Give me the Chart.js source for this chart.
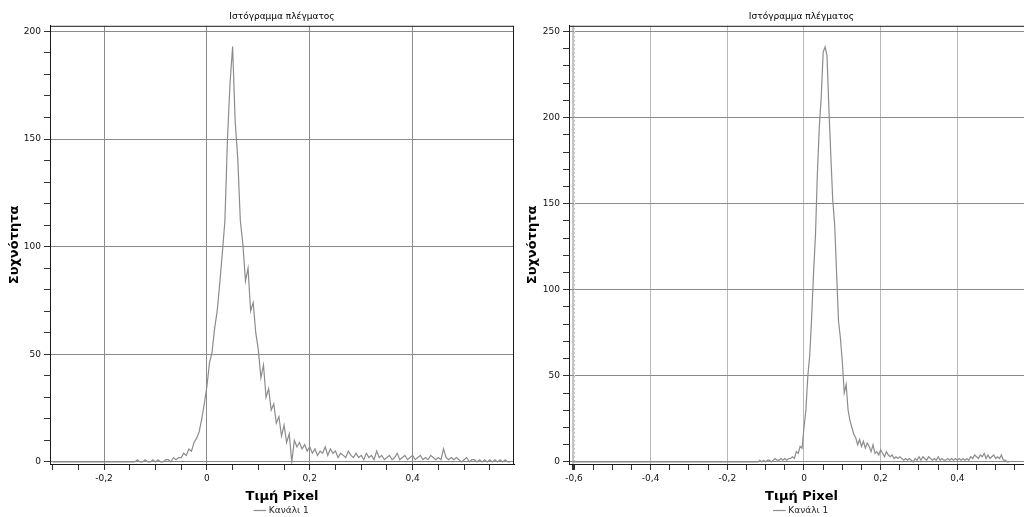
<!DOCTYPE html>
<html>
<head>
<meta charset="utf-8">
<script src="https://cdn.jsdelivr.net/npm/chart.js@4.4.1/dist/chart.umd.min.js"></script>
<style>
  html, body { margin: 0; padding: 0; background: #fff; overflow: hidden; width: 1024px; height: 517px; }
  #left { position: absolute; left: 0; top: 0; width: 564px; height: 517px; }
  #right { position: absolute; left: 518px; top: 0; width: 567px; height: 517px; background: #fff; z-index: 1; }
</style>
</head>
<body>
<div id="left"><canvas id="c1"></canvas></div>
<div id="right"><canvas id="c2"></canvas></div>
<script>
const chartTitle = "Ιστόγραμμα πλέγματος";
const xTitle = "Τιμή Pixel";
const yTitle = "Συχνότητα";
const seriesName = "Κανάλι 1";

// histogram bins, 0.005 wide
const binWidth = 0.005;

const leftStart = -0.30;
const leftCounts = [
  0, 0, 0, 0, 0, 0, 0, 0, 0, 0,
  0, 0, 0, 0, 0, 0, 0, 0, 0, 0,
  0, 0, 0, 0, 0, 0, 0, 0, 0, 0,
  0, 0, 0, 1, 0, 0, 1, 0, 0, 1,
  0, 1, 0, 0, 1, 1, 0, 2, 1, 2,
  2, 4, 3, 6, 5, 9, 11, 14, 20, 27,
  35, 46, 51, 62, 70, 83, 97, 112, 150, 176,
  193, 158, 141, 112, 101, 84, 90, 70, 74, 60,
  52, 39, 45, 30, 34, 24, 27, 18, 21, 12,
  17, 9, 13, 0, 10, 7, 9, 6, 8, 5,
  7, 4, 6, 3, 5, 4, 7, 3, 6, 4,
  5, 2, 4, 3, 2, 5, 3, 2, 4, 2,
  3, 1, 4, 2, 3, 1, 5, 2, 3, 1,
  2, 3, 1, 2, 4, 1, 2, 3, 1, 2,
  3, 1, 2, 3, 1, 2, 1, 3, 2, 1,
  2, 1, 6, 2, 1, 2, 1, 2, 1, 0,
  1, 2, 0, 1, 1, 0, 1, 0, 1, 0,
  1, 0, 1, 0, 1, 0, 1, 0, 0
];

const rightStart = -0.60;
const rightCounts = [
  0, 0, 0, 0, 0, 0, 0, 0, 0, 0,
  0, 0, 0, 0, 0, 0, 0, 0, 0, 0,
  0, 0, 0, 0, 0, 0, 0, 0, 0, 0,
  0, 0, 0, 0, 0, 0, 0, 0, 0, 0,
  0, 0, 0, 0, 0, 0, 0, 0, 0, 0,
  0, 0, 0, 0, 0, 0, 0, 0, 0, 0,
  0, 0, 0, 0, 0, 0, 0, 0, 0, 0,
  0, 0, 0, 0, 0, 0, 0, 0, 0, 0,
  0, 0, 0, 0, 0, 0, 0, 0, 0, 0,
  0, 0, 0, 0, 0, 0, 0, 1, 0, 1,
  0, 1, 1, 0, 1, 2, 1, 1, 2, 1,
  2, 1, 2, 2, 3, 2, 6, 5, 9, 8,
  20, 30, 50, 62, 84, 110, 132, 168, 195, 212,
  238, 241, 236, 205, 178, 152, 138, 110, 82, 72,
  58, 40, 45, 30, 24, 20, 16, 14, 10, 13,
  9, 12, 8, 11, 9, 6, 10, 5, 6, 4,
  7, 5, 3, 6, 4, 3, 4, 2, 3, 2,
  3, 2, 1, 2, 1, 2, 1, 0, 2, 1,
  3, 1, 3, 2, 1, 3, 2, 1, 2, 1,
  3, 1, 2, 1, 1, 2, 1, 2, 1, 2,
  1, 2, 1, 2, 1, 2, 1, 3, 2, 4,
  3, 2, 4, 3, 5, 2, 4, 2, 3, 4,
  2, 3, 2, 4, 1, 1, 0, 0
];

const FONT = "'DejaVu Sans', Verdana, sans-serif";

function near(v, step) {
  const r = v / step;
  return Math.abs(r - Math.round(r)) < 1e-6;
}

function fmtX(v) {
  if (Math.abs(v) < 1e-9) return "0";
  return v.toFixed(1).replace(".", ",");
}

const frame = {
  id: "frame",
  afterDraw(chart) {
    const a = chart.chartArea;
    const ctx = chart.ctx;
    ctx.save();
    ctx.strokeStyle = "#1a1a1a";
    ctx.lineWidth = 1;
    ctx.strokeRect(a.left + 0.5, a.top + 0.5, a.right - a.left - 1, a.bottom - a.top);
    ctx.restore();
  }
};

const marker = {
  id: "marker",
  beforeDatasetsDraw(chart, args, opts) {
    if (opts.value === undefined) return;
    const x = Math.round(chart.scales.x.getPixelForValue(opts.value)) + 0.5;
    const a = chart.chartArea;
    const ctx = chart.ctx;
    ctx.save();
    ctx.strokeStyle = "#ffffff";
    ctx.lineWidth = 1;
    ctx.setLineDash([2, 2]);
    ctx.beginPath();
    ctx.moveTo(x, a.top);
    ctx.lineTo(x, a.bottom);
    ctx.stroke();
    ctx.restore();
  }
};

function makeChart(id, start, counts, cfg) {
  const points = counts.map((c, i) => ({ x: start + i * binWidth, y: c }));
  return new Chart(document.getElementById(id), {
    type: "line",
    data: {
      datasets: [{
        label: seriesName,
        data: points,
        borderColor: "#8c8c8c",
        backgroundColor: "#8c8c8c",
        borderWidth: 1.2,
        pointRadius: 0,
        tension: 0,
        fill: false
      }]
    },
    options: {
      responsive: true,
      maintainAspectRatio: false,
      animation: false,
      parsing: false,
      layout: { padding: { left: 0, right: 0, top: 0, bottom: -8 } },
      plugins: {
        title: {
          display: true,
          text: chartTitle,
          color: "#000",
          font: { family: FONT, size: 9, weight: "normal" },
          padding: { top: 11, bottom: 4 }
        },
        legend: {
          position: "bottom",
          labels: {
            color: "#222",
            font: { family: FONT, size: 9 },
            usePointStyle: true,
            pointStyle: "line",
            boxWidth: 9,
            padding: 2
          }
        },
        tooltip: { enabled: false },
        marker: { value: cfg.marker }
      },
      scales: {
        x: {
          type: "linear",
          min: cfg.xMin,
          max: cfg.xMax,
          afterFit(scale) { scale.height = 40; },
          border: { color: "#000" },
          grid: {
            color: (c) => {
              const v = c.tick ? c.tick.value : 0;
              if (cfg.marker !== undefined && Math.abs(v - cfg.marker) < 1e-6) return "#c4c4c4";
              return near(v, 0.2) ? cfg.xGrid : "rgba(0,0,0,0)";
            },
            lineWidth: (c) => {
              const v = c.tick ? c.tick.value : 0;
              return (cfg.marker !== undefined && Math.abs(v - cfg.marker) < 1e-6) ? 3 : 1;
            },
            tickColor: "#333",
            tickLength: 6
          },
          ticks: {
            stepSize: 0.05,
            includeBounds: false,
            autoSkip: false,
            maxRotation: 0,
            color: "#111",
            font: { family: FONT, size: 9 },
            padding: 3,
            callback: (v) => near(v, 0.2) ? fmtX(v) : ""
          },
          title: {
            display: true,
            text: xTitle,
            color: "#000",
            font: { family: FONT, size: 13, weight: "bold" },
            padding: { top: 0, bottom: 0 }
          }
        },
        y: {
          type: "linear",
          min: cfg.yMin,
          max: cfg.yMax,
          afterFit(scale) { scale.width = cfg.yWidth; },
          border: { color: "#000" },
          grid: {
            color: (c) => (c.tick && near(c.tick.value, 50)) ? "#8a8a8a" : "rgba(0,0,0,0)",
            tickColor: "#333",
            tickLength: 6
          },
          ticks: {
            stepSize: 10,
            includeBounds: false,
            autoSkip: false,
            color: "#111",
            font: { family: FONT, size: 9 },
            padding: 3,
            callback: (v) => near(v, 50) ? String(Math.round(v)) : ""
          },
          title: {
            display: true,
            text: yTitle,
            color: "#000",
            font: { family: FONT, size: 13, weight: "bold" },
            padding: { top: 7, bottom: 0 }
          }
        },
        // empty right-hand axis so that the plot sits centred under title and legend
        yPad: {
          type: "linear",
          position: "right",
          display: true,
          afterFit(scale) { scale.width = cfg.yWidth; },
          grid: { display: false, drawTicks: false },
          border: { display: false },
          ticks: { display: false }
        }
      }
    },
    plugins: [frame, marker]
  });
}

makeChart("c1", leftStart, leftCounts, {
  xMin: -0.305, xMax: 0.597, yMin: -1, yMax: 202.6,
  yWidth: 50, xGrid: "#8a8a8a"
});

makeChart("c2", rightStart, rightCounts, {
  xMin: -0.613, xMax: 0.6, yMin: -1.2, yMax: 253.3,
  yWidth: 51, xGrid: "#b8b8b8", marker: -0.6
});
</script>
</body>
</html>
